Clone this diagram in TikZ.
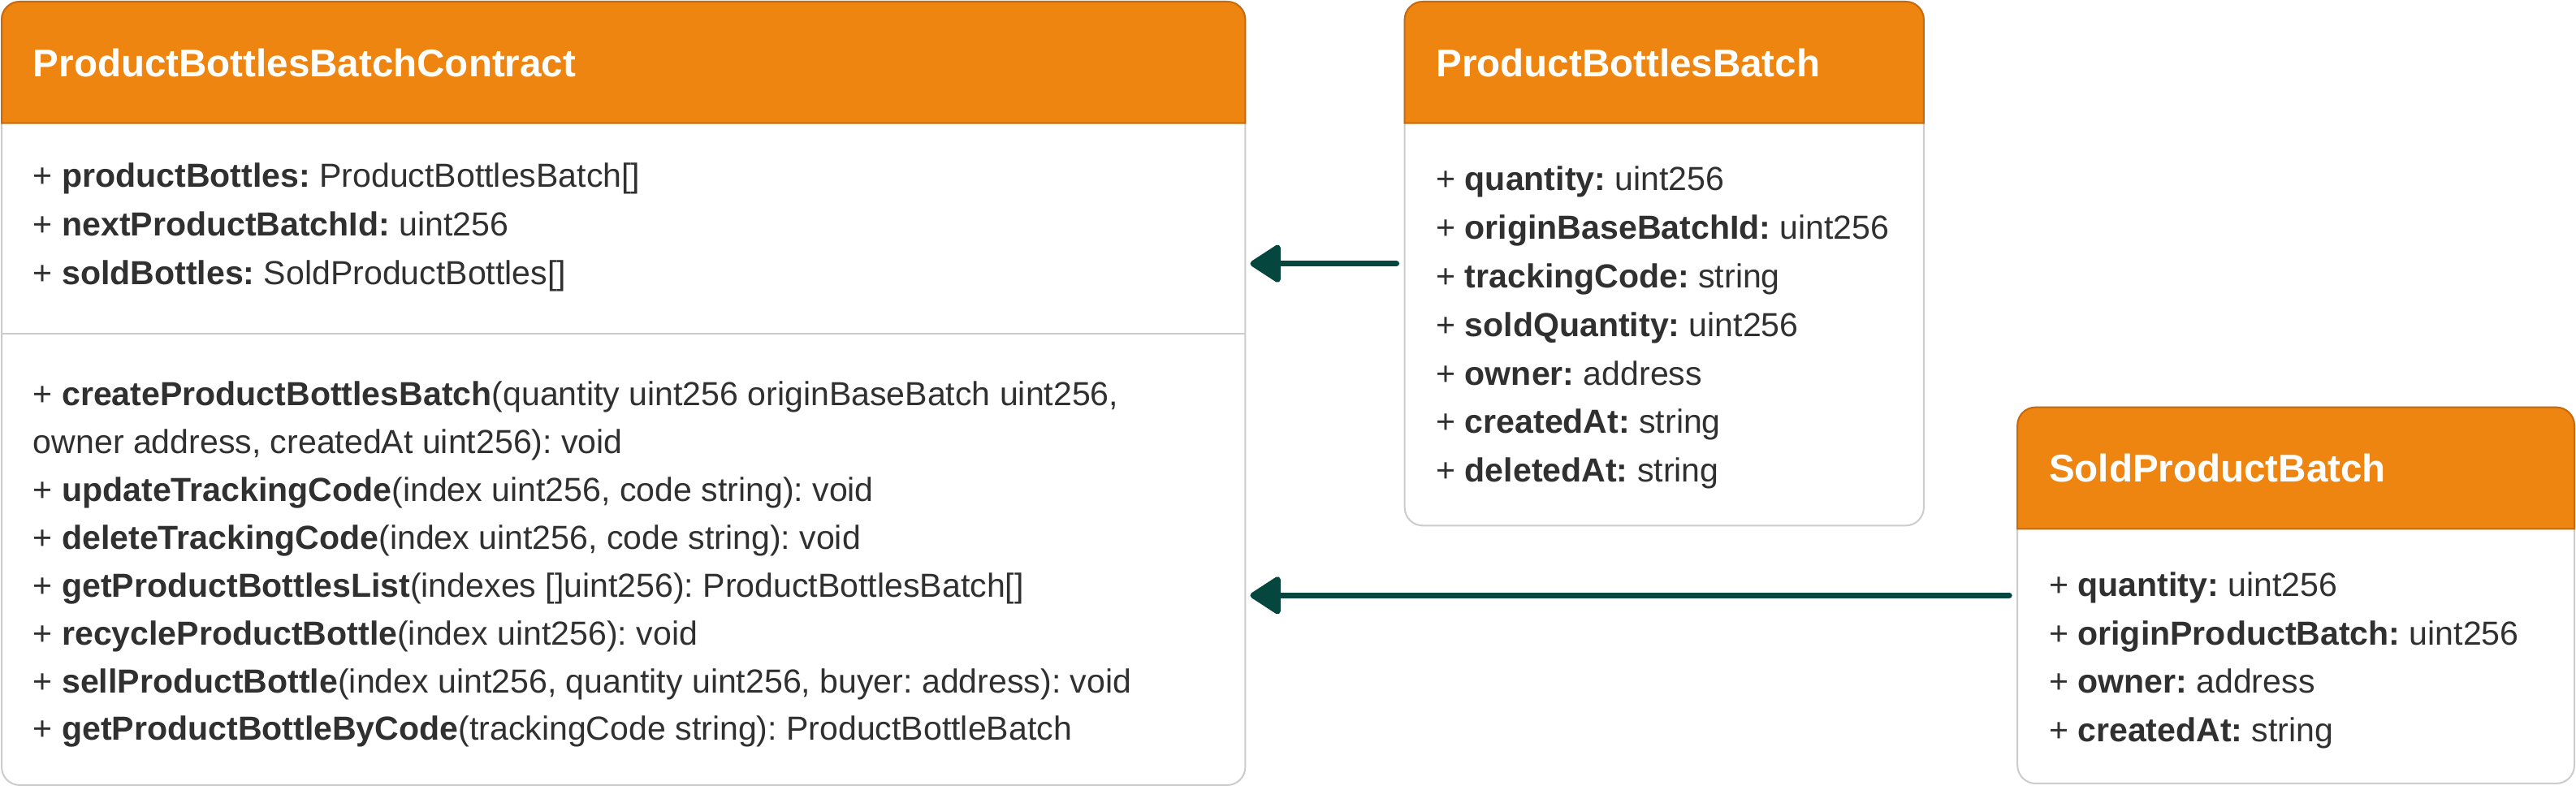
\documentclass[tikz,border=0pt]{standalone}
\usepackage{fontspec}
\setmainfont{Liberation Sans}
\usepackage{xcolor}
\usepackage{tikz}
\usetikzlibrary{positioning,calc,arrows.meta}
\frenchspacing

\definecolor{headorange}{RGB}{238,133,16}
\definecolor{headedge}{RGB}{200,106,10}
\definecolor{boxedge}{RGB}{204,204,204}
\definecolor{textgray}{RGB}{48,48,48}
\definecolor{arrowteal}{RGB}{5,70,63}

\begin{document}
\begin{tikzpicture}[x=1pt, y=1pt,
    classbox/.style={draw=boxedge, line width=1pt, fill=white, rounded corners=11pt, inner sep=0pt, outer sep=0pt, anchor=north west},
    head/.style={fill=headorange, draw=headedge, line width=1pt},
    title/.style={anchor=base west, inner sep=0pt, text=white, font=\fontsize{23.5}{28}\selectfont\bfseries},
    members/.style={anchor=north west, inner sep=0pt, align=left, text=textgray, font=\fontsize{20.3}{29.6}\selectfont},
    assoc/.style={draw=arrowteal, line width=3.5pt, line cap=round, -{Triangle[length=20pt,width=25pt,round]}, shorten <=5pt, shorten >=3pt}]

    \useasboundingbox (0,-0.5) rectangle (1568,480);

    % Class boxes
    \node[classbox, minimum width=757pt, minimum height=477pt] (contract) at (1,479) {};
    \node[classbox, minimum width=316pt, minimum height=319pt] (batch) at (855,479) {};
    \node[classbox, minimum width=339pt, minimum height=229pt] (sold) at (1228,232) {};

    % Orange headers
    \foreach \b in {contract,batch,sold}
        \draw[head] ([yshift=-74pt]\b.north west) -- ([yshift=-11pt]\b.north west)
            arc[start angle=180, end angle=90, radius=11pt] -- ([xshift=-11pt]\b.north east)
            arc[start angle=90, end angle=0, radius=11pt] -- ([yshift=-74pt]\b.north east) -- cycle;

    % Titles
    \node[title] (contract-title) at ([shift={(19,-45.5)}]contract.north west) {ProductBottlesBatchContract};
    \node[title] (batch-title) at ([shift={(19,-45.5)}]batch.north west) {ProductBottlesBatch};
    \node[title] (sold-title) at ([shift={(19,-45.5)}]sold.north west) {SoldProductBatch};

    % Attributes / methods split
    \draw[draw=boxedge, line width=1pt] ([yshift=-202pt]contract.north west) -- ([yshift=-202pt]contract.north east);

    % Members
    \node[members] (contract-attrs) at ([shift={(19,-92)}]contract.north west) {\strut+ \textbf{productBottles:} ProductBottlesBatch[]\\
        + \textbf{nextProductBatchId:} uint256\\
        + \textbf{soldBottles:} SoldProductBottles[]};
    \node[members, font=\fontsize{20.3}{29.1}\selectfont] (contract-methods) at ([shift={(19,-225.5)}]contract.north west) {\strut+ \textbf{createProductBottlesBatch}(quantity uint256 originBaseBatch uint256,\\
        owner address, createdAt uint256): void\\
        + \textbf{updateTrackingCode}(index uint256, code string): void\\
        + \textbf{deleteTrackingCode}(index uint256, code string): void\\
        + \textbf{getProductBottlesList}(indexes []uint256): ProductBottlesBatch[]\\
        + \textbf{recycleProductBottle}(index uint256): void\\
        + \textbf{sellProductBottle}(index uint256, quantity uint256, buyer: address): void\\
        + \textbf{getProductBottleByCode}(trackingCode string): ProductBottleBatch};
    \node[members] (batch-attrs) at ([shift={(19,-94)}]batch.north west) {\strut+ \textbf{quantity:} uint256\\
        + \textbf{originBaseBatchId:} uint256\\
        + \textbf{trackingCode:} string\\
        + \textbf{soldQuantity:} uint256\\
        + \textbf{owner:} address\\
        + \textbf{createdAt:} string\\
        + \textbf{deletedAt:} string};
    \node[members] (sold-attrs) at ([shift={(19,-94)}]sold.north west) {\strut+ \textbf{quantity:} uint256\\
        + \textbf{originProductBatch:} uint256\\
        + \textbf{owner:} address\\
        + \textbf{createdAt:} string};

    % Associations
    \draw[assoc] (batch.west) -- (contract.east |- batch.west);
    \draw[assoc] (sold.west) -- (contract.east |- sold.west);

\end{tikzpicture}
\end{document}
